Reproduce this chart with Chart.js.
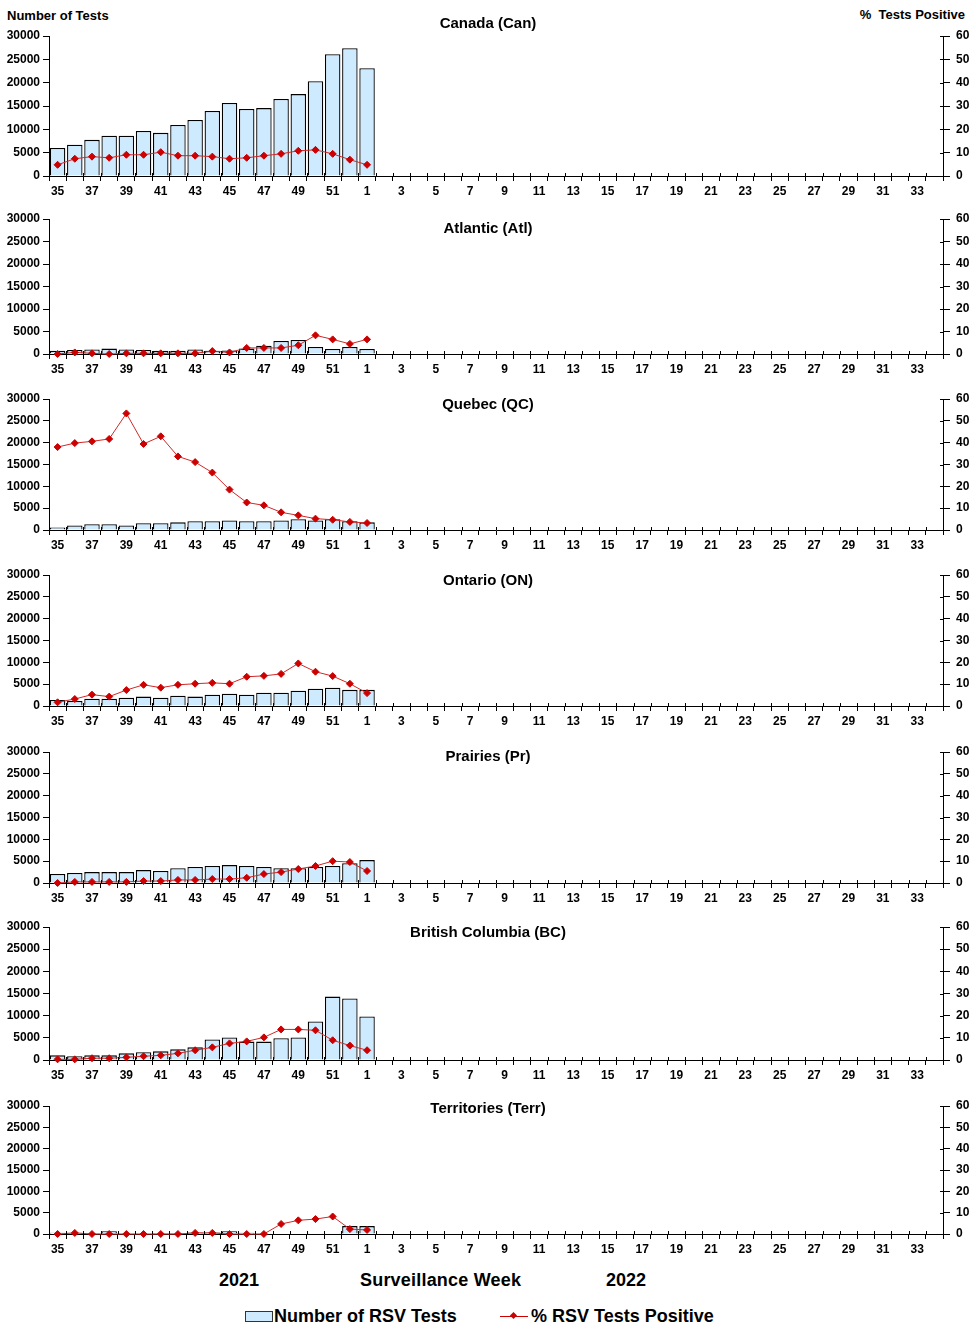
<!DOCTYPE html>
<html>
<head>
<meta charset="utf-8">
<script src="https://cdn.jsdelivr.net/npm/chart.js@4/dist/chart.umd.min.js"></script>
<style>
  body { margin: 0; background: #fff; width: 976px; height: 1334px; position: relative; overflow: hidden;
         font-family: 'Liberation Sans', Arial, sans-serif; font-weight: bold; color: #000; }
  canvas { position: absolute; left: 0; }
  .lbl { position: absolute; white-space: nowrap; line-height: 1; }
</style>
</head>
<body>
<div class="lbl" style="left:7px;top:9px;font-size:13px">Number of Tests</div>
<div class="lbl" style="right:11px;top:8px;font-size:13px">%&nbsp; Tests Positive</div>

<div class="lbl" style="left:219px;top:1271px;font-size:18px">2021</div>
<div class="lbl" style="left:360px;top:1271px;font-size:18px;letter-spacing:0.2px">Surveillance Week</div>
<div class="lbl" style="left:606px;top:1271px;font-size:18px">2022</div>

<div style="position:absolute;left:245px;top:1311px;width:26px;height:9px;background:#cdeaff;border:1px solid #333"></div>
<div class="lbl" style="left:274px;top:1307px;font-size:18px">Number of RSV Tests</div>
<div style="position:absolute;left:500px;top:1316px;width:28px;height:1px;background:#cc0000"></div>
<div style="position:absolute;left:511px;top:1313px;width:5px;height:5px;background:#cc0000;transform:rotate(45deg)"></div>
<div class="lbl" style="left:531px;top:1307px;font-size:18px">% RSV Tests Positive</div>

<script>
// Categories: surveillance weeks 2021-35 .. 2022-34
const weeks = [35, 36, 37, 38, 39, 40, 41, 42, 43, 44, 45, 46, 47, 48, 49, 50, 51, 52,
               1, 2, 3, 4, 5, 6, 7, 8, 9, 10, 11, 12, 13, 14, 15, 16, 17, 18, 19, 20,
               21, 22, 23, 24, 25, 26, 27, 28, 29, 30, 31, 32, 33, 34];

const regions = ['Canada (Can)', 'Atlantic (Atl)', 'Quebec (QC)', 'Ontario (ON)',
                 'Prairies (Pr)', 'British Columbia (BC)', 'Territories (Terr)'];

// Number of RSV tests (weeks 35..52, 1)
const testsCan  = [6000, 6700, 7750, 8650, 8650, 9650, 9250, 10950, 12000, 13950, 15650, 14350, 14550, 16500, 17550, 20300, 26100, 27400, 23100];
const testsAtl  = [700, 900, 1000, 1200, 1000, 900, 700, 700, 1000, 700, 800, 1200, 1850, 2900, 3100, 1550, 1100, 1550, 1100];
const testsQC   = [600, 1050, 1300, 1300, 1050, 1550, 1550, 1750, 2000, 2000, 2200, 2000, 2000, 2200, 2450, 2200, 2450, 2000, 1750];
const testsON   = [1400, 1150, 1650, 1650, 1900, 2150, 1900, 2350, 2150, 2600, 2800, 2600, 3050, 3050, 3500, 3950, 4200, 3700, 3700];
const testsPr   = [2050, 2300, 2500, 2500, 2500, 2950, 2750, 3400, 3650, 3900, 4100, 3900, 3650, 3400, 3400, 3650, 3900, 4550, 5250];
const testsBC   = [1050, 850, 1050, 1050, 1500, 1750, 1950, 2400, 2850, 4650, 5100, 4150, 4150, 4900, 5100, 8700, 14300, 13900, 9800];
const testsTerr = [300, 300, 250, 650, 200, 200, 250, 250, 350, 350, 650, 300, 200, 100, 100, 200, 200, 1850, 1850];

// % RSV tests positive (weeks 35..52, 1)
const pctCan  = [4.8, 7.4, 8.3, 7.8, 9.1, 9.1, 10.2, 8.7, 8.7, 8.3, 7.4, 7.8, 8.7, 9.5, 10.8, 11.2, 9.5, 7.0, 4.8];
const pctAtl  = [0, 0.7, 0.3, 0, 0.3, 0.3, 0.3, 0.3, 0.3, 1.3, 0.7, 2.7, 2.7, 2.7, 3.9, 8.3, 6.5, 4.5, 6.5];
const pctQC   = [38.0, 39.8, 40.6, 41.7, 53.4, 39.4, 42.9, 33.7, 31.1, 26.3, 18.5, 12.6, 11.3, 8.1, 6.7, 5.2, 4.7, 3.7, 3.2];
const pctON   = [1.7, 3.2, 5.2, 4.3, 7.3, 9.7, 8.4, 9.7, 10.2, 10.6, 10.2, 13.4, 13.8, 14.7, 19.5, 15.7, 13.7, 10.2, 5.9];
const pctPr   = [0, 0.5, 0.5, 0.5, 0.5, 0.9, 0.9, 1.4, 1.4, 1.8, 1.8, 2.4, 4.1, 5.0, 6.4, 7.8, 10.0, 9.6, 5.5];
const pctBC   = [0.3, 0.3, 0.8, 0.8, 1.2, 1.7, 2.1, 3.0, 4.4, 5.7, 7.5, 8.4, 10.2, 13.8, 13.8, 13.4, 8.9, 6.5, 4.4];
const pctTerr = [0, 0.5, 0, 0, 0, 0, 0, 0, 0.5, 0.5, 0, 0, 0, 4.7, 6.4, 7.0, 8.2, 2.3, 1.9];

const testsAll = [testsCan, testsAtl, testsQC, testsON, testsPr, testsBC, testsTerr];
const pctAll   = [pctCan, pctAtl, pctQC, pctON, pctPr, pctBC, pctTerr];

// Page layout of each panel's plot area
const plotTop    = [36, 219, 399, 575, 752, 927, 1106];
const plotBottom = [176, 354, 530, 706, 883, 1060, 1234];
const titleDy    = [-12, 10, 6, 6, 5, 6, 3];
const padTop = 26, xAxisH = 24;

Chart.defaults.font.family = "'Liberation Sans', Arial, sans-serif";
Chart.defaults.font.size = 12;
Chart.defaults.font.weight = 'bold';
Chart.defaults.color = '#000';

// draw the region name at a fixed place over the plot
const titlePlugin = {
  id: 'panelTitle',
  afterDraw(chart, args, opts) {
    const { ctx, chartArea } = chart;
    ctx.save();
    ctx.font = "bold 15px 'Liberation Sans', Arial, sans-serif";
    ctx.fillStyle = '#000';
    ctx.textAlign = 'center';
    ctx.textBaseline = 'middle';
    ctx.fillText(opts.text, 488, chartArea.top + opts.dy);
    ctx.restore();
  }
};

// small tick stubs inside the plot (x axis boundaries and right axis), like the original
const crossTicks = {
  id: 'crossTicks',
  afterDraw(chart) {
    const { ctx, chartArea, scales } = chart;
    ctx.save();
    ctx.strokeStyle = '#000';
    ctx.lineWidth = 1;
    ctx.beginPath();
    const xs = scales.x, n = weeks.length;
    const step = (chartArea.right - chartArea.left) / n;
    for (let k = 0; k <= n; k++) {
      const px = Math.round(chartArea.left + k * step) + 0.5;
      ctx.moveTo(px, chartArea.bottom);
      ctx.lineTo(px, chartArea.bottom - 3);
    }
    const ys = scales.y2;
    ys.ticks.forEach(t => {
      const py = Math.round(ys.getPixelForValue(t.value)) + 0.5;
      ctx.moveTo(chartArea.right, py);
      ctx.lineTo(chartArea.right - 3, py);
    });
    ctx.stroke();
    ctx.restore();
  }
};

function makePanel(i) {
  const cv = document.createElement('canvas');
  const h = plotBottom[i] - plotTop[i] + padTop + xAxisH;
  cv.width = 976; cv.height = h;
  cv.style.width = '976px'; cv.style.height = h + 'px';
  cv.style.top = (plotTop[i] - padTop) + 'px';
  document.body.appendChild(cv);

  new Chart(cv, {
    data: {
      labels: weeks,
      datasets: [
        {
          type: 'line', label: '% RSV Tests Positive', data: pctAll[i], yAxisID: 'y2',
          borderColor: '#d02828', borderWidth: 1, pointStyle: 'rectRot', pointRadius: 3.5,
          pointBackgroundColor: '#cc0000', pointBorderColor: '#cc0000', pointBorderWidth: 1,
          tension: 0, clip: false, order: 0
        },
        {
          type: 'bar', label: 'Number of RSV Tests', data: testsAll[i], yAxisID: 'y',
          backgroundColor: '#cdeaff', borderColor: '#000', borderWidth: 1.3,
          categoryPercentage: 1, barPercentage: 0.9, order: 1
        }
      ]
    },
    options: {
      responsive: false,
      animation: false,
      layout: { padding: { top: padTop, left: 0, right: 0, bottom: 0 } },
      plugins: {
        legend: { display: false },
        tooltip: { enabled: false },
        panelTitle: { text: regions[i], dy: titleDy[i] }
      },
      scales: {
        x: {
          offset: true,
          grid: { offset: true, drawOnChartArea: false, color: '#000', tickLength: 5 },
          border: { color: '#000', width: 1 },
          ticks: {
            autoSkip: false, maxRotation: 0, padding: 3,
            callback: (v, idx) => idx % 2 === 0 ? String(weeks[idx]) : ''
          },
          afterFit: s => { s.height = xAxisH; }
        },
        y: {
          position: 'left', min: 0, max: 30000,
          ticks: { stepSize: 5000, padding: 3, callback: v => String(v) },
          grid: { drawOnChartArea: false, color: '#000', tickLength: 6 },
          border: { color: '#000', width: 1 },
          afterFit: s => { s.width = 49; }
        },
        y2: {
          position: 'right', min: 0, max: 60,
          ticks: { stepSize: 10, padding: 6, callback: v => String(v) },
          grid: { drawOnChartArea: false, color: '#000', tickLength: 7 },
          border: { color: '#000', width: 1 },
          afterFit: s => { s.width = 33; }
        }
      }
    },
    plugins: [titlePlugin, crossTicks]
  });
}

for (let i = 0; i < regions.length; i++) makePanel(i);
</script>
</body>
</html>
